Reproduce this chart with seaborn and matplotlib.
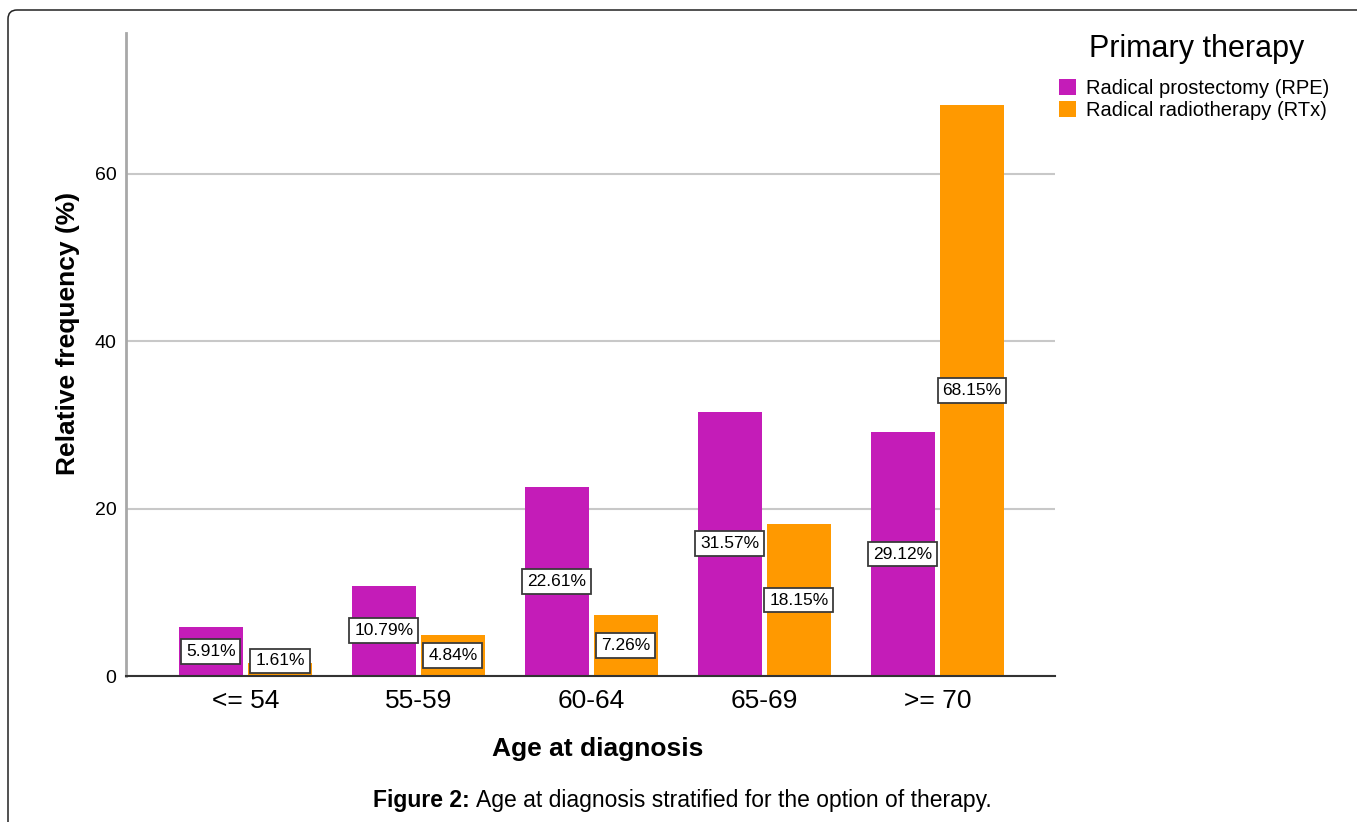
import seaborn as sns
import pandas as pd
import matplotlib.pyplot as plt
from matplotlib.patches import FancyBboxPatch
from matplotlib.transforms import IdentityTransform

# Values
age_groups = ['<= 54', '55-59', '60-64', '65-69', '>= 70']
therapies = ['Radical prostectomy (RPE)', 'Radical radiotherapy (RTx)']
rpe_pct = [5.91, 10.79, 22.61, 31.57, 29.12]
rtx_pct = [1.61, 4.84, 7.26, 18.15, 68.15]
y_ticks = [0, 20, 40, 60]
colors = ['#C41CB8', '#FF9900']

# Long format table for seaborn
df = pd.DataFrame({
    'age': age_groups * 2,
    'therapy': [therapies[0]] * len(age_groups) + [therapies[1]] * len(age_groups),
    'pct': rpe_pct + rtx_pct,
})

sns.set_theme(style='white')
plt.rcParams['font.family'] = ['Liberation Sans', 'DejaVu Sans']
plt.rcParams['text.color'] = 'black'
plt.rcParams['axes.labelcolor'] = 'black'

fig = plt.figure(figsize=(13.57, 8.22), dpi=100)
ax = fig.add_axes([126 / 1357, 1 - 676 / 822, 929 / 1357, 643 / 822])

sns.barplot(data=df, x='age', y='pct', hue='therapy', hue_order=therapies,
            order=age_groups, palette=colors, width=0.8, gap=0.08,
            linewidth=0, saturation=1, ax=ax, zorder=2)

ax.set_xlim(-0.69, 4.68)
ax.set_ylim(0, 76.8)
ax.set_yticks(y_ticks)
ax.yaxis.grid(True, color='#c8c8c8', linewidth=1.5, zorder=0)
ax.set_axisbelow(True)
ax.tick_params(axis='y', length=0, pad=7, labelsize=14, colors='black')
ax.tick_params(axis='x', length=0, pad=9, labelsize=19, colors='black')

for side in ['top', 'right']:
    ax.spines[side].set_visible(False)
ax.spines['left'].set_color('#a8a8a8')
ax.spines['left'].set_linewidth(2)
ax.spines['bottom'].set_color('#333333')
ax.spines['bottom'].set_linewidth(1.5)

ax.set_xlabel('Age at diagnosis', fontsize=19, fontweight='bold')
ax.set_ylabel('Relative frequency (%)', fontsize=19, fontweight='bold')
ax.xaxis.set_label_coords(0.508, -0.095)
ax.yaxis.set_label_coords(-0.05, 0.533)

# value boxes in the middle of each bar
for container in ax.containers:
    for bar in container:
        h = bar.get_height()
        cx = bar.get_x() + bar.get_width() / 2
        ax.text(cx, max(h / 2, 1.8), f'{h:.2f}%', ha='center', va='center',
                fontsize=12.5, zorder=5,
                bbox=dict(boxstyle='square,pad=0.28', facecolor='white',
                          edgecolor='#3a3a3a', linewidth=1.3))

# legend on the right, title drawn separately to match spacing
handles, labels = ax.get_legend_handles_labels()
ax.legend_.remove()
fig.text(1197 / 1357, 1 - 49 / 822, 'Primary therapy', ha='center', va='center',
         fontsize=22)
fig.legend(handles, labels, loc='upper left',
           bbox_to_anchor=(1045 / 1357, 1 - 65 / 822), frameon=False,
           fontsize=14.5, handlelength=0.85, handleheight=0.85,
           handletextpad=0.5, labelspacing=0.15, borderpad=0.2)

# caption
fig.text(470 / 1357, 1 - 800 / 822, 'Figure 2:', ha='right', va='center',
         fontsize=16.5, fontweight='bold')
fig.text(476 / 1357, 1 - 800 / 822, 'Age at diagnosis stratified for the option of therapy.',
         ha='left', va='center', fontsize=16.5)

# rounded page frame
frame = FancyBboxPatch((8, -30), 1400, 822 - 10 + 30,
                       boxstyle='round,pad=0,rounding_size=9',
                       transform=IdentityTransform(), facecolor='none',
                       edgecolor='#222222', linewidth=1.1)
fig.patches.append(frame)

fig.savefig('out.png', dpi=100)
